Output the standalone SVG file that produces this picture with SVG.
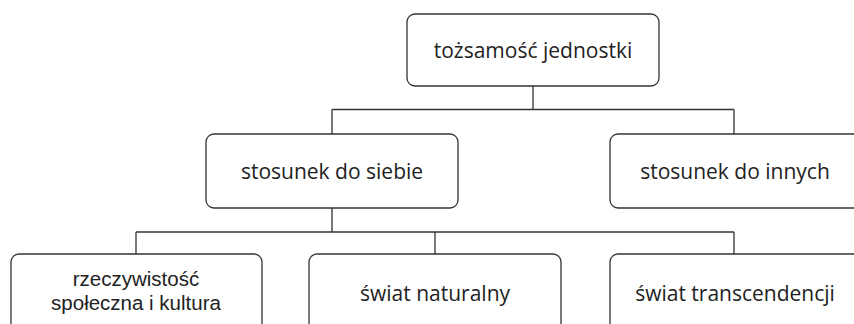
<svg xmlns="http://www.w3.org/2000/svg" width="854" height="324" viewBox="0 0 854 324">
<style>
.box{fill:#fff;stroke:#333;stroke-width:1.3}
.ln{fill:none;stroke:#333;stroke-width:1.3}
text{font-family:"Open Sans","Liberation Sans",sans-serif;font-size:21px;fill:#222;text-anchor:middle}
text.two{font-family:"Liberation Sans",sans-serif;font-size:20.5px}
</style>
<rect width="854" height="324" fill="#fff"/>
<g id="connectors">
<path class="ln" d="M533,86 V109.5 M332,109.5 H734 M332,109.5 V134 M734,109.5 V134"/>
<path class="ln" d="M332,208 V232 M136,232 H734 M136,232 V254 M435,232 V254 M734,232 V254"/>
</g>
<g id="n1"><rect class="box" x="407" y="14" width="252" height="72" rx="8"/><text x="533" y="58">tożsamość jednostki</text></g>
<g id="n2"><rect class="box" x="206" y="134" width="252" height="74" rx="8"/><text x="332" y="179">stosunek do siebie</text></g>
<g id="n3"><rect class="box" x="610" y="134" width="252" height="74" rx="8"/><text x="735" y="179">stosunek do innych</text></g>
<g id="n4"><rect class="box" x="11" y="254" width="251" height="80" rx="8"/><text class="two" x="136" y="286">rzeczywistość</text><text class="two" x="136" y="310">społeczna i kultura</text></g>
<g id="n5"><rect class="box" x="309" y="254" width="252" height="80" rx="8"/><text x="435" y="301">świat naturalny</text></g>
<g id="n6"><rect class="box" x="610" y="254" width="252" height="80" rx="8"/><text x="735" y="301">świat transcendencji</text></g>
</svg>
